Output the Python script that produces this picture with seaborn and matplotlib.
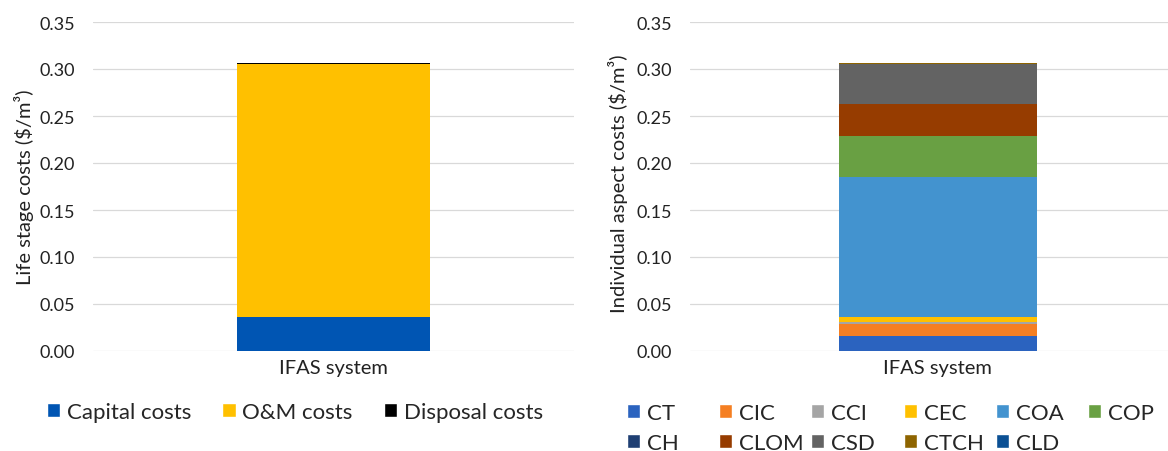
import matplotlib
matplotlib.use('Agg')
import matplotlib.pyplot as plt
import seaborn as sns
import pandas as pd
from matplotlib.patches import Patch

# data
system = 'IFAS system'

stage_names = ['Capital costs', 'O&M costs', 'Disposal costs']
stage_values = [0.0358, 0.2700, 0.0010]
stage_colors = ['#0055B3', '#FFC000', '#000000']

aspect_names = ['CT', 'CIC', 'CCI', 'CEC', 'COA', 'COP', 'CH', 'CLOM', 'CSD', 'CTCH', 'CLD']
aspect_values = [0.0156, 0.0131, 0.0022, 0.0050, 0.1489, 0.0436, 0.0003, 0.0344, 0.0427, 0.0001, 0.0008]
aspect_colors = ['#2B63BF', '#F57F22', '#A5A5A5', '#FFC000', '#4393CF', '#69A043',
                 '#1F3F73', '#963C00', '#636363', '#8E6400', '#0B5094']

yticks = [0.00, 0.05, 0.10, 0.15, 0.20, 0.25, 0.30, 0.35]

sns.set_style('white')
plt.rcParams['font.family'] = ['Lato', 'DejaVu Sans']
FS_TICK = 13
FS_LAB = 14.5
FS_LEG = 16
W, H = 1168, 452

fig = plt.figure(figsize=(W / 100, H / 100), dpi=100)


def stacked(ax, names, values, colors):
    # draw cumulative totals from the top down so each bar shows one segment
    cum = pd.Series(values, index=names).cumsum()
    for name, color in reversed(list(zip(names, colors))):
        df = pd.DataFrame({'sys': [system], 'val': [cum[name]]})
        sns.barplot(data=df, x='sys', y='val', color=color, width=0.4,
                    saturation=1, linewidth=0, ax=ax)
    ax.set_xlim(-0.5, 0.5)
    ax.set_ylim(0, 0.35)
    ax.set_yticks(yticks)
    ax.set_yticklabels([f'{t:.2f}' for t in yticks])
    ax.grid(axis='y', color='#D9D9D9', linewidth=0.9)
    ax.set_axisbelow(True)
    for s in ax.spines.values():
        s.set_visible(False)
    ax.tick_params(axis='both', length=0, labelsize=FS_TICK, colors='#222222')
    ax.tick_params(axis='x', labelsize=FS_LAB, pad=6)
    ax.tick_params(axis='y', pad=13)
    ax.set_xlabel('')


ax1 = fig.add_axes([93 / W, (H - 352) / H, 481 / W, 329 / H])
stacked(ax1, stage_names, stage_values, stage_colors)
ax1.set_ylabel('Life stage costs (\\$/m³)', fontsize=FS_LAB, color='#222222')
ax1.yaxis.set_label_coords(-0.122, 0.5)

ax2 = fig.add_axes([690 / W, (H - 352) / H, 495 / W, 329 / H])
stacked(ax2, aspect_names, aspect_values, aspect_colors)
ax2.set_ylabel('Individual aspect costs (\\$/m³)', fontsize=FS_LAB, color='#222222')
ax2.yaxis.set_label_coords(-0.125, 0.51)

# left legend, one row
handles = [Patch(facecolor=c, label=n) for n, c in zip(stage_names, stage_colors)]
fig.legend(handles=handles, loc='center left', bbox_to_anchor=(47 / W, (H - 413) / H),
           ncol=3, frameon=False, fontsize=FS_LEG, handlelength=0.6, handleheight=0.6,
           handletextpad=0.3, columnspacing=1.4, borderpad=0, borderaxespad=0)

# right legend, fixed-width columns like Excel
col_x = [627, 719, 811, 904, 996, 1088]
for i, x in enumerate(col_x):
    idx = [j for j in (i, i + 6) if j < len(aspect_names)]
    hs = [Patch(facecolor=aspect_colors[j], label=aspect_names[j]) for j in idx]
    fig.legend(handles=hs, loc='upper left', bbox_to_anchor=(x / W, (H - 404) / H),
               ncol=1, frameon=False, fontsize=FS_LEG, handlelength=0.6, handleheight=0.6,
               handletextpad=0.3, labelspacing=0.45, borderpad=0, borderaxespad=0)

fig.savefig('out.png', dpi=100)
